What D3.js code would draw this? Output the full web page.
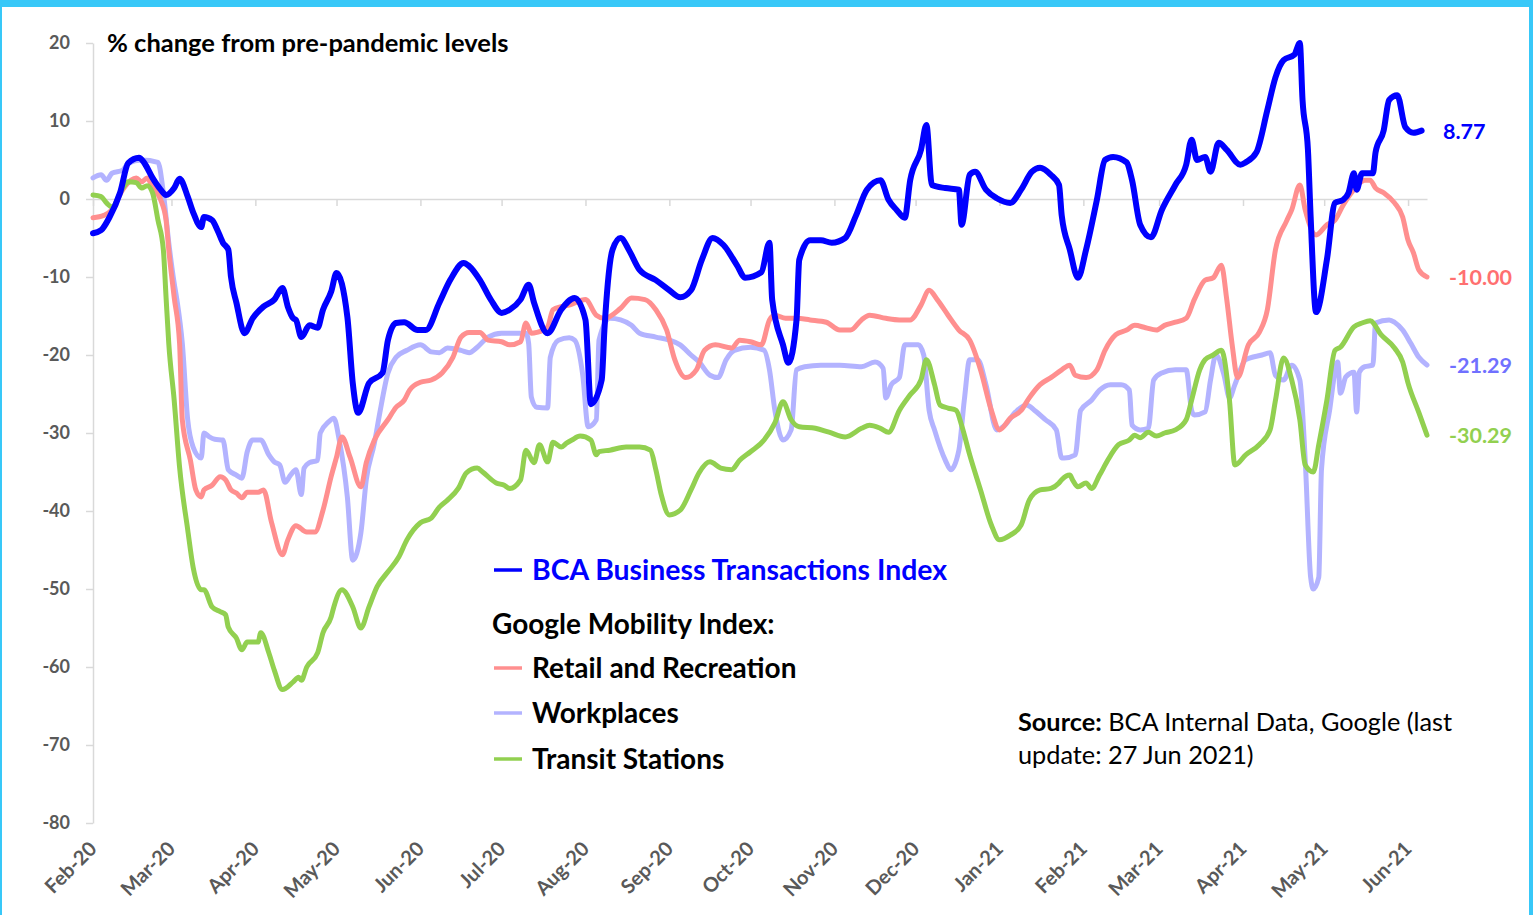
<!DOCTYPE html>
<html>
<head>
<meta charset="utf-8">
<script src="https://cdn.jsdelivr.net/npm/d3@7"></script>
<style>
  body { margin: 0; background: #fff; }
  svg { display: block; font-family: Lato, "Open Sans", sans-serif; }
</style>
</head>
<body>
<svg id="chart" width="1533" height="915"></svg>
<script>
// day offsets from 1 Feb 2020, % change values
var bca = [[0,-4.4],[3,-4.0],[6,-2.4],[10,0.8],[13,4.6],[17,5.3],[19,4.6],[22,2.7],[25,1.2],[27,0.5],[30,1.4],[32,2.6],
  [35,0.3],[37,-1.7],[40,-3.6],[41,-2.3],[44,-2.7],[46,-4.0],[48,-5.6],[50,-6.5],[51,-10],[53,-13.3],[56,-17.2],[59,-15.3],
  [63,-13.8],[67,-12.9],[70,-11.4],[72,-13.8],[74,-15.3],[75,-15.5],[77,-17.7],[80,-16.2],[83,-16.5],[85,-14.2],[88,-11.9],
  [90,-9.5],[94,-15.1],[96,-23.6],[98,-27.4],[102,-23.6],[107,-22.3],[109,-18.1],[112,-15.9],[115,-15.8],[120,-16.8],
  [123,-16.8],[128,-13.3],[132,-10.4],[137,-8.2],[139,-8.6],[143,-10.4],[147,-12.9],[151,-14.6],[154,-14.2],[158,-12.9],
  [161,-11.0],[163,-13.3],[168,-17.2],[173,-14.2],[178,-12.7],[182,-15.5],[184,-26.3],[188,-23.2],[189,-16.8],[192,-6.5],
  [195,-5.0],[198,-6.5],[202,-9.1],[208,-10.4],[213,-11.7],[217,-12.6],[221,-11.7],[225,-7.8],[229,-5.0],[233,-5.9],
  [238,-8.5],[241,-10.1],[247,-9.4],[250,-5.6],[251,-12.9],[255,-18.7],[257,-21.0],[260,-15.5],[261,-7.8],[265,-5.3],
  [269,-5.3],[273,-5.6],[278,-5.0],[282,-2.1],[286,1.2],[291,2.4],[294,-0.1],[297,-1.4],[300,-2.4],[302,2.4],[306,6.3],
  [308,9.5],[310,1.8],[315,1.4],[320,1.2],[321,-3.3],[324,3.1],[326,3.5],[330,1.2],[334,0.1],[339,-0.5],[343,1.2],
  [347,3.5],[350,4.0],[354,3.1],[357,1.8],[358,-2.1],[361,-6.5],[364,-10.1],[367,-6.5],[371,-0.1],[374,5.0],[377,5.4],
  [382,4.7],[384,2.4],[387,-3.3],[391,-4.9],[395,-1.4],[400,1.8],[404,4.4],[406,7.6],[408,5.0],[411,5.4],[413,3.5],
  [416,7.2],[419,6.3],[424,4.4],[426,4.7],[430,6.0],[434,11.4],[437,15.6],[440,17.8],[444,18.5],[446,20],[447,12.7],
  [449,6.3],[450,-2.3],[452,-14.5],[456,-7.8],[459,-0.5],[462,-0.1],[464,0.8],[466,3.3],[467,1.2],[469,3.3],[473,3.3],
  [474,6.0],[477,8.8],[479,12.7],[482,13.3],[485,9.2],[488,8.5],[491,8.77]];

var retail = [[0,-2.4],[4,-2.1],[7,-1.4],[11,1.2],[14,2.4],[16,2.7],[18,2.2],[20,2.7],[22,1.5],[25,-0.1],[27,-2.7],
  [28,-6.5],[30,-12.6],[32,-18.5],[33,-28.3],[36,-33.5],[38,-37.3],[40,-38.2],[41,-37.3],[44,-36.7],[47,-35.6],[49,-36],
  [51,-37.3],[53,-37.7],[55,-38.3],[57,-37.6],[61,-37.6],[63,-37.3],[66,-41.5],[70,-45.6],[72,-43.7],[75,-41.9],[79,-42.7],
  [82,-42.7],[85,-39.9],[88,-35.6],[90,-33.1],[92,-30.5],[95,-33.1],[99,-36.9],[101,-33.8],[104,-30.9],[109,-28.3],
  [112,-26.7],[115,-25.8],[117,-24.5],[121,-23.5],[125,-23.2],[129,-22.3],[133,-20.3],[136,-17.7],[139,-17.1],[143,-17.1],
  [146,-18.1],[151,-18.3],[154,-18.7],[158,-18.3],[160,-15.9],[162,-17.2],[164,-17.1],[168,-16.4],[170,-14.2],[173,-13.8],
  [176,-13.6],[182,-12.9],[186,-14.9],[189,-15.3],[195,-14.0],[199,-12.7],[204,-12.9],[208,-14.2],[212,-16.8],[215,-20.6],
  [219,-22.9],[223,-21.9],[226,-19.4],[230,-18.7],[236,-19.1],[239,-18.1],[243,-18.3],[247,-18.7],[250,-15.5],[252,-14.9],
  [256,-15.3],[260,-15.3],[265,-15.5],[271,-15.8],[276,-16.8],[280,-16.8],[284,-15.5],[287,-14.9],[293,-15.3],[298,-15.5],
  [302,-15.5],[306,-13.6],[309,-11.7],[312,-12.9],[316,-14.9],[320,-16.8],[324,-18.1],[328,-21.9],[332,-27.1],[335,-29.6],
  [339,-28.1],[343,-27.1],[346,-25.5],[350,-23.8],[354,-22.9],[358,-21.9],[361,-21.3],[363,-22.6],[367,-22.9],[371,-21.9],
  [374,-19.4],[378,-17.4],[382,-16.8],[385,-16.2],[389,-16.5],[393,-16.8],[396,-16.2],[400,-15.8],[404,-15.3],[407,-12.9],
  [411,-10.4],[414,-10.1],[417,-8.5],[419,-12.9],[421,-18.7],[423,-22.9],[427,-18.7],[431,-17.1],[434,-14.2],[437,-6.5],
  [441,-2.9],[443,-1.4],[446,1.8],[448,-1.4],[452,-4.6],[456,-3.3],[459,-2.7],[462,-0.8],[466,1.2],[470,2.4],[472,2.4],
  [474,1.4],[477,0.8],[481,-0.5],[484,-2.3],[486,-5.3],[488,-6.9],[490,-9.1],[493,-10.0]];

var workplaces = [[0,2.7],[3,3.1],[5,2.4],[7,3.3],[11,3.7],[13,4.6],[18,5.0],[24,4.7],[26,0.8],[28,-5.6],[30,-10.8],
  [31,-12.9],[33,-18.5],[35,-28.3],[37,-31.8],[40,-33.2],[41,-30],[43,-30.5],[45,-30.8],[48,-30.9],[50,-34.7],[53,-35.4],
  [55,-35.8],[57,-32.4],[59,-30.9],[62,-30.9],[65,-32.8],[67,-33.7],[69,-34.1],[71,-36.3],[73,-35.4],[75,-34.7],[77,-37.9],
  [78,-34.5],[80,-33.8],[83,-33.5],[84,-30],[87,-28.6],[89,-28.1],[91,-30.9],[94,-38.2],[96,-46.3],[99,-42.8],[101,-36],
  [104,-31.3],[106,-27.4],[109,-22.3],[112,-20.3],[116,-19.4],[121,-18.7],[125,-19.6],[128,-19.7],[131,-19.1],[136,-19.4],
  [139,-19.7],[142,-19],[146,-17.7],[151,-17.2],[155,-17.2],[160,-17.2],[161,-18.5],[162,-25.4],[164,-26.7],[168,-26.8],
  [169,-20.3],[172,-18.1],[176,-17.8],[178,-18.1],[181,-22.6],[183,-29.2],[186,-28.3],[187,-18.1],[191,-15.3],[195,-15.5],
  [199,-16.2],[202,-17.2],[208,-17.7],[213,-18.1],[217,-18.7],[221,-20],[224,-20.9],[228,-22.6],[231,-22.9],[234,-20.6],
  [237,-19.4],[243,-19],[248,-19.4],[250,-21.9],[252,-27.1],[255,-30.9],[258,-29.6],[260,-21.9],[263,-21.5],[269,-21.3],
  [276,-21.3],[284,-21.5],[289,-20.9],[292,-21.7],[293,-25.5],[295,-23.8],[298,-22.9],[300,-18.7],[305,-18.7],[307,-20],
  [309,-27.1],[311,-29.6],[315,-33.5],[317,-34.7],[320,-32.2],[322,-25.8],[324,-20.6],[327,-20.6],[330,-23.8],[334,-29.6],
  [337,-29],[341,-27.3],[345,-26.4],[348,-27.1],[352,-28.3],[356,-29.6],[358,-33.2],[359,-33.2],[363,-32.8],[365,-27.1],
  [369,-25.8],[372,-24.5],[376,-23.8],[380,-23.8],[383,-24.5],[384,-29],[387,-29.6],[390,-29.4],[392,-23.2],[395,-22.3],
  [400,-21.9],[404,-21.9],[406,-27.1],[407,-27.7],[411,-27.3],[413,-23.2],[415,-20],[418,-22.6],[420,-25.5],[422,-23.8],
  [426,-20.6],[432,-20],[435,-19.7],[437,-22.6],[440,-23.2],[443,-21.3],[446,-23.2],[448,-33.5],[450,-48.5],[451,-50],
  [453,-48.5],[454,-34.7],[457,-27.1],[460,-20.9],[461,-24.9],[463,-22.8],[466,-22.2],[467,-27.3],[468,-22.2],[470,-21.5],
  [473,-21.3],[474,-15.9],[479,-15.5],[481,-15.8],[484,-16.8],[487,-18.5],[490,-20.3],[493,-21.29]];

var transit = [[0,0.5],[3,0.3],[5,-0.5],[7,-1],[11,1.4],[13,2.2],[16,2.1],[18,1.4],[20,1.7],[22,0.8],[24,-2.7],[26,-6.5],
  [27,-12.6],[28,-18.5],[30,-25.8],[32,-34.4],[35,-42.4],[37,-47.2],[40,-50.1],[41,-50.1],[44,-52.3],[47,-52.9],[49,-53.3],
  [50,-54.9],[53,-56.3],[55,-57.8],[57,-56.8],[61,-56.8],[62,-55.6],[65,-58.2],[67,-60.4],[70,-62.9],[74,-61.9],[76,-61.3],
  [77,-61.7],[79,-60],[83,-58.2],[85,-55.6],[88,-53.6],[89,-52.3],[92,-50.1],[96,-52.3],[99,-55],[102,-52.3],[105,-49.7],
  [109,-47.8],[113,-45.9],[116,-43.7],[121,-41.5],[125,-40.9],[128,-39.5],[131,-38.6],[135,-37.1],[138,-35.1],[142,-34.5],
  [144,-35],[149,-36.4],[152,-36.7],[154,-37.1],[158,-36],[160,-32.2],[163,-33.8],[165,-31.5],[168,-33.7],[170,-31.2],
  [173,-31.8],[175,-31.3],[177,-30.9],[180,-30.4],[184,-30.9],[186,-32.8],[187,-32.4],[191,-32.2],[197,-31.8],[202,-31.8],
  [206,-32.2],[208,-34.7],[210,-37.9],[213,-40.5],[217,-39.9],[221,-37.3],[224,-35.1],[228,-33.7],[232,-34.5],[236,-34.7],
  [239,-33.5],[243,-32.4],[248,-30.9],[252,-28.7],[255,-26],[258,-28.3],[261,-29.2],[267,-29.4],[272,-29.9],[278,-30.5],
  [284,-29.4],[287,-29],[291,-29.4],[294,-29.9],[298,-27.1],[302,-25.1],[306,-23.2],[308,-20.6],[311,-23.8],[313,-26.4],
  [316,-26.8],[319,-27.1],[321,-29],[324,-32.8],[328,-37.3],[332,-41.8],[335,-43.7],[339,-43.1],[343,-41.8],[346,-38.6],
  [350,-37.3],[354,-37.1],[357,-36.4],[358,-36],[361,-35.4],[362,-36],[364,-36.9],[367,-36.4],[369,-37.1],[372,-35.4],
  [375,-33.5],[379,-31.5],[383,-30.9],[385,-30.3],[387,-30.6],[390,-29.9],[393,-30.4],[396,-30],[400,-29.6],[404,-28.3],
  [406,-25.8],[409,-21.9],[411,-20.6],[414,-20],[417,-19.4],[420,-25.8],[422,-34.1],[426,-32.8],[431,-31.5],[435,-29.6],
  [437,-25.8],[440,-20.4],[443,-23.2],[446,-28.3],[448,-34.1],[451,-35],[453,-31.5],[456,-25.8],[459,-19.4],[461,-19],
  [466,-16.4],[469,-15.9],[472,-15.6],[476,-17.4],[481,-19.1],[484,-20.9],[486,-23.6],[490,-27.4],[493,-30.29]];

var yTicks = [20, 10, 0, -10, -20, -30, -40, -50, -60, -70, -80];
var seriesNames = ['BCA Business Transactions Index', 'Retail and Recreation', 'Workplaces', 'Transit Stations'];
var lastValues = ['8.77', '-10.00', '-21.29', '-30.29'];

var startDate = new Date(Date.UTC(2020, 1, 1));
var endDate = new Date(Date.UTC(2021, 5, 8));
function toDate(d){ return d3.utcDay.offset(startDate, d); }

var svg = d3.select('#chart');

// frame
svg.append('rect').attr('width', 1533).attr('height', 915).attr('fill', '#38c8f8');
svg.append('rect').attr('x', 2).attr('y', 7).attr('width', 1527).attr('height', 908).attr('fill', '#fff');

var x = d3.scaleUtc().domain([startDate, endDate]).range([93, 1427]);
var y = d3.scaleLinear().domain([-80, 20]).range([823, 43]);

// y axis (plain hyphen for negatives, like the original)
var yAxis = svg.append('g')
  .attr('transform', 'translate(93,0)')
  .call(d3.axisLeft(y).tickValues(yTicks).tickSize(7).tickSizeOuter(0).tickPadding(16)
    .tickFormat(d => String(d)));
yAxis.selectAll('path, line').attr('stroke', '#d9d9d9').attr('stroke-width', 1.5);
yAxis.selectAll('text').attr('font-size', 18).attr('font-weight', 'bold').attr('fill', '#595959')
  .attr('font-family', 'Lato, sans-serif');

// zero line with month ticks
var months = d3.utcMonth.range(startDate, endDate);
var xAxis = svg.append('g')
  .attr('transform', 'translate(0,' + y(0) + ')')
  .call(d3.axisBottom(x).tickValues(months).tickSize(7).tickSizeOuter(0).tickFormat(''));
xAxis.selectAll('path, line').attr('stroke', '#d9d9d9').attr('stroke-width', 1.5);

// month labels at bottom
var fmt = d3.utcFormat('%b-%y');
svg.append('g').selectAll('text')
  .data(months)
  .join('text')
    .attr('transform', d => 'translate(' + (x(d) + 5) + ',850) rotate(-45)')
    .attr('text-anchor', 'end')
    .attr('font-size', 20)
    .attr('font-weight', 'bold')
    .attr('fill', '#595959')
    .text(d => fmt(d));

// lines
var line = d3.line()
  .x(d => x(toDate(d[0])))
  .y(d => y(d[1]))
  .curve(d3.curveMonotoneX);

var series = [
  {data: workplaces, color: '#b3b3ff', w: 5},
  {data: retail, color: '#ff8f8f', w: 5},
  {data: transit, color: '#92d050', w: 5},
  {data: bca, color: '#0000ff', w: 6}
];
svg.append('g').selectAll('path')
  .data(series)
  .join('path')
    .attr('d', d => line(d.data))
    .attr('fill', 'none')
    .attr('stroke', d => d.color)
    .attr('stroke-width', d => d.w)
    .attr('stroke-linejoin', 'round')
    .attr('stroke-linecap', 'round');

// end labels
var endLabels = [
  {t: lastValues[0], v: 8.77, color: '#0000ff', dx: 16},
  {t: lastValues[1], v: -10.0, color: '#ff7070', dx: 22},
  {t: lastValues[2], v: -21.29, color: '#7070ff', dx: 22},
  {t: lastValues[3], v: -30.29, color: '#92d050', dx: 22}
];
svg.append('g').selectAll('text')
  .data(endLabels)
  .join('text')
    .attr('x', d => 1427 + d.dx)
    .attr('y', d => y(d.v) + 8)
    .attr('font-size', 21.5)
    .attr('font-weight', 'bold')
    .attr('fill', d => d.color)
    .text(d => d.t);

// title
svg.append('text')
  .attr('x', 107).attr('y', 52)
  .attr('font-size', 25.5).attr('font-weight', 'bold').attr('fill', '#000')
  .text('% change from pre-pandemic levels');

// legend
var leg = svg.append('g');
leg.append('line').attr('x1', 494).attr('x2', 522).attr('y1', 570).attr('y2', 570)
  .attr('stroke', '#0000ff').attr('stroke-width', 3.5);
leg.append('text').attr('x', 532).attr('y', 580).attr('font-size', 28.4).attr('font-weight', 'bold')
  .attr('fill', '#0000ff').text(seriesNames[0]);
leg.append('text').attr('x', 492).attr('y', 634).attr('font-size', 28).attr('font-weight', 'bold')
  .attr('fill', '#000').text('Google Mobility Index:');
var legRows = [
  {name: seriesNames[1], color: '#ff8f8f', y: 668},
  {name: seriesNames[2], color: '#b3b3ff', y: 713},
  {name: seriesNames[3], color: '#92d050', y: 759}
];
legRows.forEach(function(r){
  leg.append('line').attr('x1', 494).attr('x2', 522).attr('y1', r.y).attr('y2', r.y)
    .attr('stroke', r.color).attr('stroke-width', 3.5);
  leg.append('text').attr('x', 532).attr('y', r.y + 10).attr('font-size', 28).attr('font-weight', 'bold')
    .attr('fill', '#000').text(r.name);
});

// source
var src = svg.append('text').attr('x', 1018).attr('y', 731).attr('font-size', 25.3).attr('fill', '#000');
src.append('tspan').attr('font-weight', 'bold').text('Source:');
src.append('tspan').text(' BCA Internal Data, Google (last');
svg.append('text').attr('x', 1018).attr('y', 764).attr('font-size', 25.3).attr('fill', '#000')
  .text('update: 27 Jun 2021)');
</script>
</body>
</html>
